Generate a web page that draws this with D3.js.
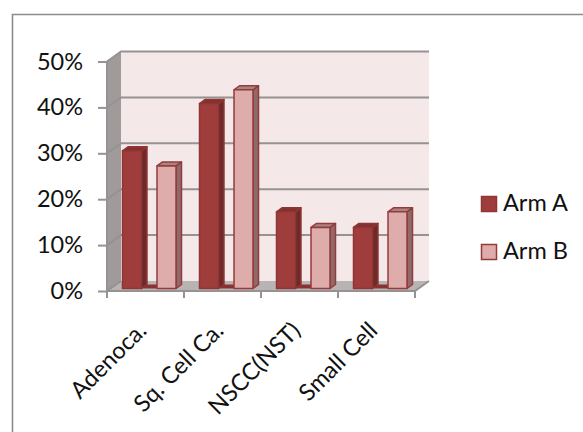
<!DOCTYPE html>
<html>
<head>
<meta charset="utf-8">
<script src="https://cdn.jsdelivr.net/npm/d3@7/dist/d3.min.js"></script>
<style>
html, body { margin: 0; padding: 0; background: #fff; overflow: hidden; }
text { font-family: Lato, "Open Sans", sans-serif; fill: #111; }
</style>
</head>
<body>
<svg id="chart" width="583" height="432"></svg>
<script>
const categories = ["Adenoca.", "Sq. Cell Ca.", "NSCC(NST)", "Small Cell"];
const seriesNames = ["Arm A", "Arm B"];
const armA = [30, 40.3, 16.7, 13.3];
const armB = [26.7, 43.3, 13.3, 16.7];
const yTicks = [0, 10, 20, 30, 40, 50];

const svg = d3.select("#chart");
const depth = { x: 14, y: -10 };
const barDepth = { x: 5.5, y: -4 };
const plot = { left: 107, right: 415, top: 61.5, bottom: 291 };
const labelSize = 23.5;

const y = d3.scaleLinear().domain([0, 50]).range([plot.bottom, plot.top]);
const x = d3.scaleBand().domain(categories).range([plot.left, plot.right]);
const arm = d3.scaleBand().domain(seriesNames).range([15.5, 69]).paddingInner(0.45);

const styles = {
  "Arm A": { front: "#9e3d3c", side: "#6d2a29", top: "#84302f", stroke: "#8f3635" },
  "Arm B": { front: "#deadab", side: "#8f6a6a", top: "#a98483", stroke: "#953b3a" }
};
const poly = pts => "M" + pts.map(p => p.join(",")).join("L") + "Z";

// Outer chart frame: top and left edges only
svg.append("path")
  .attr("d", d3.line()([[12.5, 432], [12.5, 14.5], [583, 14.5]]))
  .attr("fill", "none").attr("stroke", "#8c8c8c").attr("stroke-width", 1.6);

// Back wall
svg.append("rect")
  .attr("x", plot.left + depth.x).attr("y", plot.top + depth.y)
  .attr("width", plot.right - plot.left).attr("height", plot.bottom - plot.top)
  .attr("fill", "#f5e8e9");

// Left wall
svg.append("path")
  .attr("d", poly([[plot.left, plot.top], [plot.left + depth.x, plot.top + depth.y],
                   [plot.left + depth.x, plot.bottom + depth.y], [plot.left, plot.bottom]]))
  .attr("fill", "#a09a9a");

// Floor
svg.append("path")
  .attr("d", poly([[plot.left, plot.bottom], [plot.left + depth.x, plot.bottom + depth.y],
                   [plot.right + depth.x, plot.bottom + depth.y], [plot.right, plot.bottom]]))
  .attr("fill", "#b9b4b4");

// Gridlines along the back wall and down the left wall
yTicks.forEach(t => {
  const yy = y(t);
  const line = t === 0
    ? [[plot.left, yy], [plot.left + depth.x, yy + depth.y]]
    : [[plot.left, yy], [plot.left + depth.x, yy + depth.y], [plot.right + depth.x, yy + depth.y]];
  svg.append("path")
    .attr("d", d3.line()(line))
    .attr("fill", "none").attr("stroke", "#969292").attr("stroke-width", 2);
});

// Floor front and right edges
svg.append("path")
  .attr("d", d3.line()([[plot.left, plot.bottom], [plot.right, plot.bottom], [plot.right + depth.x, plot.bottom + depth.y]]))
  .attr("fill", "none").attr("stroke", "#969292").attr("stroke-width", 2);

// Left axis and value ticks
svg.append("path")
  .attr("d", d3.line()([[plot.left, plot.top], [plot.left, plot.bottom]]))
  .attr("stroke", "#969292").attr("stroke-width", 2);
const yAxis = d3.axisLeft(y).tickValues(yTicks).tickFormat(d => d + "%").tickSize(9).tickPadding(15);
const yG = svg.append("g").attr("transform", `translate(${plot.left},0)`).call(yAxis);
yG.select(".domain").remove();
yG.selectAll("line").attr("stroke", "#969292").attr("stroke-width", 2);
yG.selectAll("text").attr("font-size", labelSize).style("font-family", "Lato, sans-serif").attr("fill", "#111");

// Category ticks on the front floor edge
const xTickValues = d3.range(categories.length + 1).map(i => plot.left + i * x.step());
xTickValues.forEach(v => {
  svg.append("line").attr("x1", v).attr("x2", v).attr("y1", plot.bottom).attr("y2", plot.bottom + 7)
    .attr("stroke", "#969292").attr("stroke-width", 2);
});

// Slanted category labels
categories.forEach(c => {
  svg.append("text")
    .attr("transform", `translate(${x(c) + 41},${plot.bottom + 41}) rotate(-45)`)
    .attr("text-anchor", "end")
    .attr("font-size", labelSize)
    .text(c);
});

// Bars: front, side and top faces standing just inside the floor edge
const baseY = y(0) - 2.5;
const perUnit = y(0) - y(1);
seriesNames.forEach((name, si) => {
  const values = si === 0 ? armA : armB;
  const s = styles[name];
  categories.forEach((c, i) => {
    const x0 = x(c) + arm(name), x1 = x0 + arm.bandwidth();
    const top = baseY - values[i] * perUnit;
    const g = svg.append("g").attr("stroke", s.stroke).attr("stroke-width", 1.5).attr("stroke-linejoin", "round");
    if (si === 0) {
      // Reflection of the bar on the floor, running toward its neighbour
      g.append("rect").attr("x", x1).attr("y", baseY - 4).attr("width", arm.step() - arm.bandwidth()).attr("height", 4)
        .attr("fill", "#8a3231").attr("stroke", "none");
    }
    g.append("path").attr("fill", s.side)
      .attr("d", poly([[x1, top], [x1 + barDepth.x, top + barDepth.y], [x1 + barDepth.x, baseY + barDepth.y], [x1, baseY]]));
    g.append("path").attr("fill", s.top)
      .attr("d", poly([[x0, top], [x0 + barDepth.x, top + barDepth.y], [x1 + barDepth.x, top + barDepth.y], [x1, top]]));
    g.append("rect").attr("x", x0).attr("y", top).attr("width", x1 - x0).attr("height", baseY - top).attr("fill", s.front);
  });
});

// Legend
seriesNames.forEach((name, i) => {
  const g = svg.append("g").attr("transform", `translate(481,${196 + i * 48})`);
  g.append("rect").attr("x", 0.5).attr("y", 0.5).attr("width", 15).attr("height", 15)
    .attr("fill", styles[name].front).attr("stroke", styles[name].stroke).attr("stroke-width", 1.5);
  g.append("text").attr("x", 22).attr("y", 15).attr("font-size", labelSize).text(name);
});
</script>
</body>
</html>
